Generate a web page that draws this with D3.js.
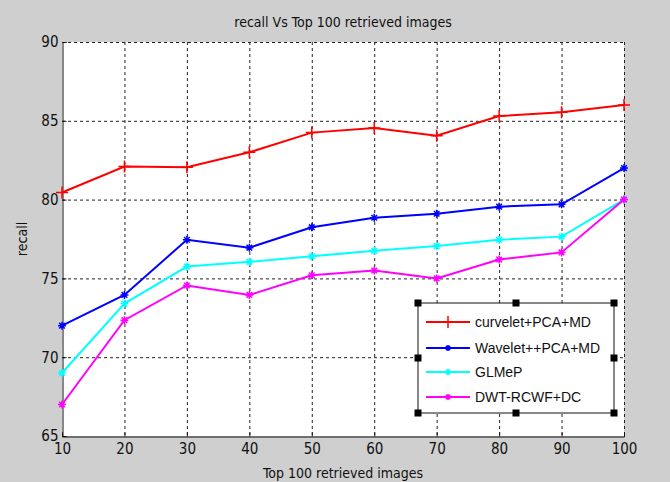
<!DOCTYPE html>
<html lang="en">
<head>
    <meta charset="UTF-8">
    <title>recall Vs Top 100 retrieved images</title>
    <script src="https://d3js.org/d3.v7.min.js"></script>
    <style>
        body { margin: 0; background: #cfcfcf; }
        svg { display: block; }
        .narrow { font-family: "Liberation Sans Narrow", "Arial Narrow", "DejaVu Sans Condensed", sans-serif; fill: #111; }
        .grid line { stroke: #222; stroke-dasharray: 3,3; stroke-width: 1; }
        .line { fill: none; stroke-width: 2; }
        .legend text { font-family: "Liberation Sans", Arial, sans-serif; font-size: 14px; fill: #111; }
    </style>
</head>
<body>
    <svg width="670" height="482"></svg>
    <script>
        const retrieved = [10, 20, 30, 40, 50, 60, 70, 80, 90, 100];
        const curveletPcaMd = [80.45, 82.1, 82.05, 83.0, 84.25, 84.55, 84.05, 85.3, 85.55, 86.0];
        const waveletPcaMd = [72.0, 73.95, 77.45, 76.95, 78.25, 78.85, 79.1, 79.55, 79.7, 82.0];
        const glmep = [69.0, 73.4, 75.75, 76.05, 76.4, 76.75, 77.05, 77.45, 77.65, 80.0];
        const dwtRcwfDc = [67.0, 72.35, 74.55, 73.95, 75.2, 75.5, 75.0, 76.2, 76.65, 80.0];
        const yTicks = [65, 70, 75, 80, 85, 90];

        const series = [
            {name: "curvelet+PCA+MD", values: curveletPcaMd, color: "#ff0000", marker: "plus"},
            {name: "Wavelet++PCA+MD", values: waveletPcaMd, color: "#0000ff", marker: "star"},
            {name: "GLMeP", values: glmep, color: "#00ffff", marker: "star"},
            {name: "DWT-RCWF+DC", values: dwtRcwfDc, color: "#ff00ff", marker: "star"}
        ];

        const margin = {top: 42, right: 46, bottom: 46, left: 62};
        const width = 670, height = 482;

        const svg = d3.select("svg");

        const x = d3.scaleLinear()
            .domain([10, 100])
            .range([margin.left, width - margin.right]);

        const y = d3.scaleLinear()
            .domain([65, 90])
            .range([height - margin.bottom, margin.top]);

        // white plot area
        svg.append("rect")
            .attr("x", x(10)).attr("y", y(90))
            .attr("width", x(100) - x(10)).attr("height", y(65) - y(90))
            .attr("fill", "white");

        // dotted grid
        const grid = svg.append("g").attr("class", "grid");
        grid.selectAll("line.v")
            .data(retrieved.slice(1))
            .enter().append("line")
            .attr("x1", d => x(d) + 0.5).attr("x2", d => x(d) + 0.5)
            .attr("y1", y(90)).attr("y2", y(65));
        grid.selectAll("line.h")
            .data(yTicks.slice(1))
            .enter().append("line")
            .attr("class", "h")
            .attr("x1", x(10)).attr("x2", x(100))
            .attr("y1", d => y(d) + 0.5).attr("y2", d => y(d) + 0.5);

        // axes
        const xAxis = svg.append("g")
            .attr("transform", `translate(0,${y(65) + 0.5})`)
            .call(d3.axisBottom(x).tickValues(retrieved).tickSize(-4).tickPadding(8));
        const yAxis = svg.append("g")
            .attr("transform", `translate(${x(10) + 0.5},0)`)
            .call(d3.axisLeft(y).tickValues(yTicks).tickSize(-4).tickPadding(4));
        [xAxis, yAxis].forEach(a => {
            a.select(".domain").attr("stroke", "#111");
            a.selectAll(".tick line").attr("stroke", "#111");
            a.selectAll(".tick text")
                .attr("class", "narrow")
                .style("font-size", "15px");
        });
        xAxis.selectAll(".tick text").attr("dy", "0.6em");

        // titles
        svg.append("text")
            .attr("class", "narrow")
            .attr("x", (x(10) + x(100)) / 2).attr("y", 27)
            .attr("text-anchor", "middle")
            .style("font-size", "14px")
            .text("recall Vs Top 100 retrieved images");
        svg.append("text")
            .attr("class", "narrow")
            .attr("x", (x(10) + x(100)) / 2).attr("y", 478)
            .attr("text-anchor", "middle")
            .style("font-size", "14px")
            .text("Top 100 retrieved images");
        svg.append("text")
            .attr("class", "narrow")
            .attr("transform", `translate(27,${(y(65) + y(90)) / 2}) rotate(-90)`)
            .attr("text-anchor", "middle")
            .style("font-size", "14px")
            .text("recall");

        const markerPath = (type, s) => type === "plus"
            ? `M${-s},0H${s}M0,${-s}V${s}`
            : `M${-s},0H${s}M0,${-s}V${s}M${-s * 0.7},${-s * 0.7}L${s * 0.7},${s * 0.7}M${-s * 0.7},${s * 0.7}L${s * 0.7},${-s * 0.7}`;

        const line = d3.line()
            .x((d, i) => x(retrieved[i]))
            .y(d => y(d));

        series.forEach(s => {
            svg.append("path")
                .datum(s.values)
                .attr("class", "line")
                .attr("stroke", s.color)
                .attr("d", line);
            svg.selectAll(null)
                .data(s.values)
                .enter().append("path")
                .attr("transform", (d, i) => `translate(${x(retrieved[i])},${y(d)})`)
                .attr("d", markerPath(s.marker, s.marker === "plus" ? 6 : 4))
                .attr("fill", "none")
                .attr("stroke", s.color)
                .attr("stroke-width", 1.5);
        });

        // legend (selected MATLAB legend with handles)
        const lg = {x0: 418, y0: 303, x1: 614, y1: 413};
        const legend = svg.append("g").attr("class", "legend");
        legend.append("rect")
            .attr("x", lg.x0).attr("y", lg.y0)
            .attr("width", lg.x1 - lg.x0).attr("height", lg.y1 - lg.y0)
            .attr("fill", "white").attr("stroke", "#111").attr("stroke-width", 1);
        const rowY = [322, 348, 372, 397];
        series.forEach((s, i) => {
            const g = legend.append("g").attr("transform", `translate(0,${rowY[i]})`);
            g.append("line")
                .attr("x1", 426).attr("x2", 470)
                .attr("stroke", s.color).attr("stroke-width", 2);
            g.append("path")
                .attr("transform", "translate(448,0)")
                .attr("d", markerPath(s.marker, s.marker === "plus" ? 6 : 3))
                .attr("fill", "none").attr("stroke", s.color).attr("stroke-width", 1.5);
            g.append("text")
                .attr("x", 475).attr("dy", "0.35em")
                .text(s.name);
        });
        const handles = [
            [lg.x0, lg.y0], [(lg.x0 + lg.x1) / 2, lg.y0], [lg.x1, lg.y0],
            [lg.x0, (lg.y0 + lg.y1) / 2], [lg.x1, (lg.y0 + lg.y1) / 2],
            [lg.x0, lg.y1], [(lg.x0 + lg.x1) / 2, lg.y1], [lg.x1, lg.y1]
        ];
        legend.selectAll("rect.h")
            .data(handles)
            .enter().append("rect")
            .attr("x", d => d[0] - 3.5).attr("y", d => d[1] - 3.5)
            .attr("width", 7).attr("height", 7)
            .attr("fill", "black");
    </script>
</body>
</html>
